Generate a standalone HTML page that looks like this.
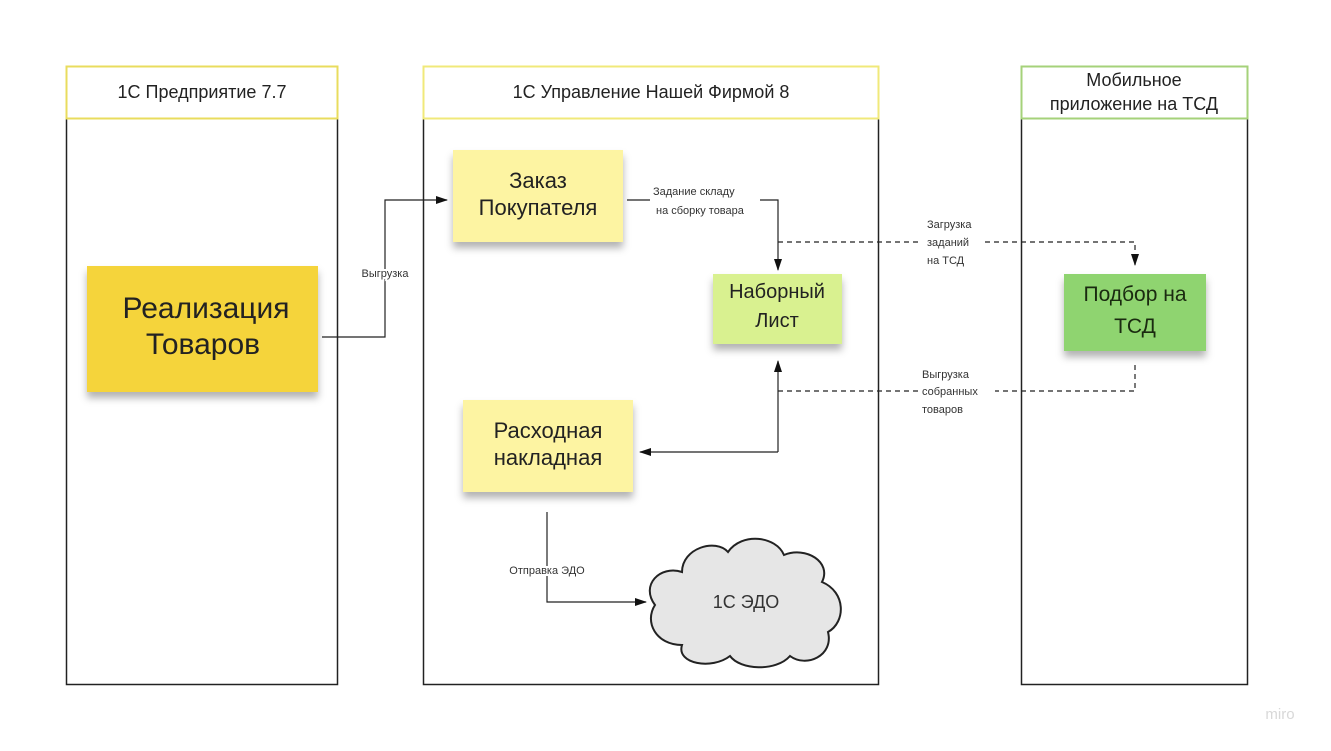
<!DOCTYPE html>
<html><head><meta charset="utf-8"><style>
html,body{margin:0;padding:0;background:#fff;}
svg{display:block;font-family:"Liberation Sans","DejaVu Sans",sans-serif;}
</style></head><body>
<svg width="1331" height="751" viewBox="0 0 1331 751" xmlns="http://www.w3.org/2000/svg">
<defs>
<marker id="ar" markerWidth="12" markerHeight="8" refX="11" refY="4" orient="auto" markerUnits="userSpaceOnUse"><path d="M0,0 L12,4 L0,8 Z" fill="#111"/></marker>
<filter id="sh" x="-10%" y="-10%" width="120%" height="140%"><feDropShadow dx="0" dy="6" stdDeviation="4" flood-color="#000" flood-opacity="0.3"/></filter>
</defs>
<rect width="1331" height="751" fill="#fff"/>
<!-- lanes -->
<rect x="66.5" y="118.5" width="271" height="566" fill="none" stroke="#222" stroke-width="1.5"/>
<rect x="66.5" y="66.5" width="271" height="52" fill="#fff" stroke="#e9dc5e" stroke-width="2"/>
<text x="202" y="98" font-size="18" text-anchor="middle" fill="#222">1С Предприятие 7.7</text>
<rect x="423.5" y="118.5" width="455" height="566" fill="none" stroke="#222" stroke-width="1.5"/>
<rect x="423.5" y="66.5" width="455" height="52" fill="#fff" stroke="#f0e97a" stroke-width="2"/>
<text x="651" y="98" font-size="18" text-anchor="middle" fill="#222">1С Управление Нашей Фирмой 8</text>
<rect x="1021.5" y="118.5" width="226" height="566" fill="none" stroke="#222" stroke-width="1.5"/>
<rect x="1021.5" y="66.5" width="226" height="52" fill="#fff" stroke="#a5d27a" stroke-width="2"/>
<text x="1134" y="86" font-size="18" text-anchor="middle" fill="#222">Мобильное</text>
<text x="1134" y="110" font-size="18" text-anchor="middle" fill="#222">приложение на ТСД</text>
<!-- notes -->
<rect x="87" y="266" width="231" height="126" fill="#f5d43b" filter="url(#sh)"/>
<text x="206" y="318" font-size="30" text-anchor="middle" fill="#222">Реализация</text>
<text x="203" y="354" font-size="30" text-anchor="middle" fill="#222">Товаров</text>
<rect x="453" y="150" width="170" height="92" fill="#fdf4a2" filter="url(#sh)"/>
<text x="538" y="188" font-size="22" text-anchor="middle" fill="#222">Заказ</text>
<text x="538" y="215" font-size="22" text-anchor="middle" fill="#222">Покупателя</text>
<rect x="713" y="274" width="129" height="70" fill="#d9f190" filter="url(#sh)"/>
<text x="777" y="298" font-size="20" text-anchor="middle" fill="#222">Наборный</text>
<text x="777" y="327" font-size="20" text-anchor="middle" fill="#222">Лист</text>
<rect x="463" y="400" width="170" height="92" fill="#fdf4a2" filter="url(#sh)"/>
<text x="548" y="438" font-size="22" text-anchor="middle" fill="#222">Расходная</text>
<text x="548" y="465" font-size="22" text-anchor="middle" fill="#222">накладная</text>
<rect x="1064" y="274" width="142" height="77" fill="#8fd46f" filter="url(#sh)"/>
<text x="1135" y="301" font-size="21" text-anchor="middle" fill="#1a2a10">Подбор на</text>
<text x="1135" y="333" font-size="21" text-anchor="middle" fill="#1a2a10">ТСД</text>
<!-- cloud -->
<path d="M655,605 C640,585 660,565 682,572 C682,548 716,538 728,552 C742,532 776,536 784,555 C806,546 832,562 822,582 C846,592 846,622 828,632 C834,656 806,668 790,656 C776,672 740,670 730,656 C712,670 676,664 682,645 C656,645 644,622 655,605 Z" fill="#e6e6e6" stroke="#222" stroke-width="2"/>
<text x="746" y="608" font-size="18" text-anchor="middle" fill="#333">1С ЭДО</text>
<!-- connectors -->
<g fill="none" stroke="#222" stroke-width="1.2">
<path d="M322,337 H385 V200 H447" marker-end="url(#ar)"/>
<path d="M627,200 H650"/>
<path d="M760,200 H778 V270" marker-end="url(#ar)"/>
<path d="M778,452 V361" marker-end="url(#ar)"/>
<path d="M778,452 H640" marker-end="url(#ar)"/>
<path d="M547,512 V602 H646" marker-end="url(#ar)"/>
<path d="M778,242 H920 M985,242 H1135 V265" stroke-dasharray="5,4" marker-end="url(#ar)"/>
<path d="M1135,365 V391 H995 M918,391 H778" stroke-dasharray="5,4"/>
</g>
<g font-size="11" fill="#333">
<text x="385" y="277" text-anchor="middle" stroke="#fff" stroke-width="4" paint-order="stroke">Выгрузка</text>
<text x="653" y="195">Задание складу</text>
<text x="656" y="214">на сборку товара</text>
<text x="927" y="228">Загрузка</text>
<text x="927" y="246">заданий</text>
<text x="927" y="264">на ТСД</text>
<text x="922" y="378">Выгрузка</text>
<text x="922" y="395">собранных</text>
<text x="922" y="413">товаров</text>
<text x="547" y="574" text-anchor="middle" stroke="#fff" stroke-width="4" paint-order="stroke">Отправка ЭДО</text>
</g>
<text x="1280" y="719" font-size="15" text-anchor="middle" fill="#d8d8d8">miro</text>
</svg>
</body></html>
